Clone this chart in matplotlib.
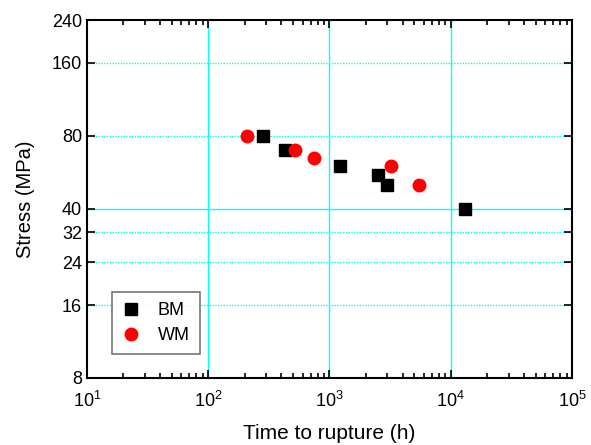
import numpy as np
import matplotlib
matplotlib.use("Agg")
import matplotlib.pyplot as plt
from matplotlib.ticker import LogLocator, FixedLocator, FixedFormatter, NullLocator

plt.rcParams['font.family'] = ['Liberation Sans', 'DejaVu Sans']
plt.rcParams['mathtext.fontset'] = 'custom'
plt.rcParams['mathtext.rm'] = 'Liberation Sans'
plt.rcParams['mathtext.it'] = 'Liberation Sans'

# Dados
bm_time = [285, 427, 1225, 2525, 3000, 13100]
bm_stress = [80, 70, 60, 55, 50, 40]
wm_time = [210, 520, 747, 3210, 5470]
wm_stress = [80, 70, 65, 60, 50]

y_ticks = [8, 16, 24, 32, 40, 80, 160, 240]
y_dotted = [16, 24, 32, 80, 160]
y_solid = [40]
x_major = [100, 1000, 10000]

fig = plt.figure(figsize=(5.91, 4.45), dpi=100)
ax = fig.add_axes([0.147, 0.1506, 0.821, 0.8044])

# grades
for v in x_major:
    ax.axvline(v, color='cyan', lw=1.0, zorder=1)
for v in y_dotted:
    ax.axhline(v, color='cyan', lw=1.0, ls=(0, (1, 1)), zorder=1)
for v in y_solid:
    ax.axhline(v, color='cyan', lw=1.0, zorder=1)

ax.plot(bm_time, bm_stress, 's', color='black', ms=8, label='BM', zorder=3)
ax.plot(wm_time, wm_stress, 'o', color='red', ms=9, label='WM', zorder=3)

ax.set_xscale('log')
ax.set_yscale('log')
ax.set_xlim(10, 1e5)
ax.set_ylim(8, 240)

ax.xaxis.set_major_locator(LogLocator(base=10, numticks=10))
ax.xaxis.set_minor_locator(LogLocator(base=10, subs=np.arange(2, 10), numticks=10))
ax.yaxis.set_major_locator(FixedLocator(y_ticks))
ax.yaxis.set_major_formatter(FixedFormatter([str(v) for v in y_ticks]))
ax.yaxis.set_minor_locator(NullLocator())

ax.tick_params(which='both', direction='in', top=True, right=True, labelsize=13, width=1.2)
ax.tick_params(which='major', length=6)
ax.tick_params(which='minor', length=3.5)
ax.tick_params(axis='x', pad=9)

for s in ax.spines.values():
    s.set_linewidth(1.5)

ax.set_xlabel('Time to rupture (h)', fontsize=15, labelpad=10)
ax.set_ylabel('Stress (MPa)', fontsize=14.5, labelpad=12)

leg = ax.legend(loc='lower left', bbox_to_anchor=(0.0515, 0.067), borderaxespad=0,
                fontsize=13, frameon=True, fancybox=False, edgecolor='#555555',
                handletextpad=1.0, borderpad=0.55, labelspacing=0.45, handlelength=1.0)
leg.get_frame().set_linewidth(1.2)

fig.savefig('out.png', dpi=100)
